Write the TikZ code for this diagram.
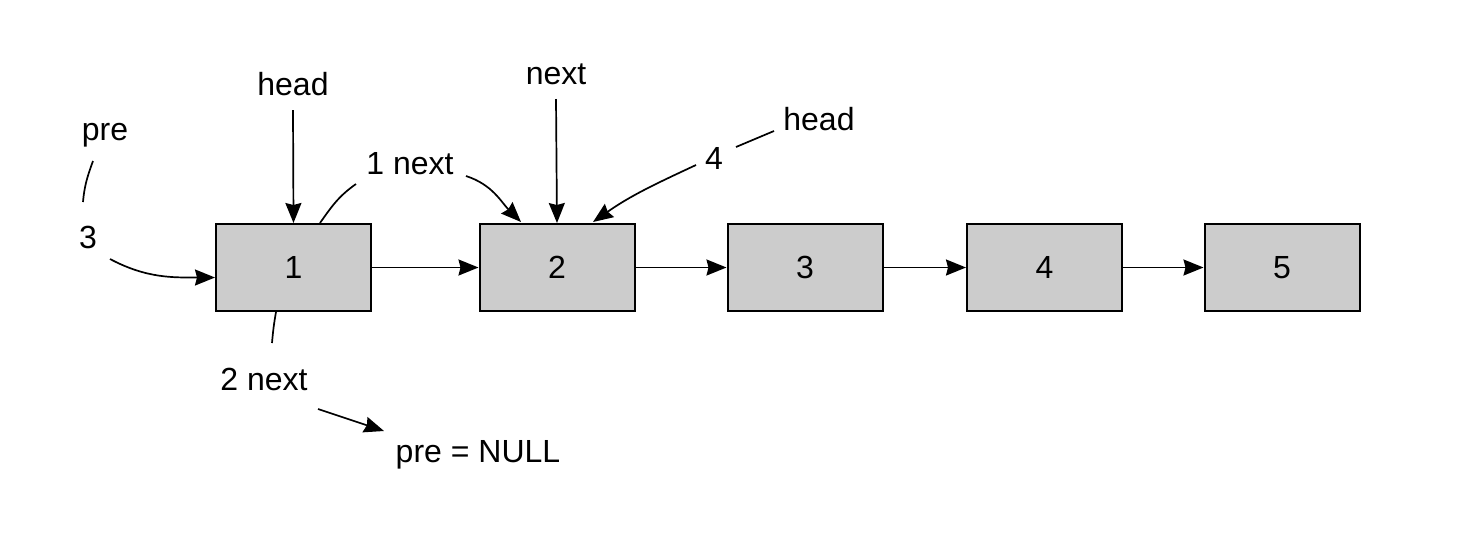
\documentclass[tikz,border=0pt]{standalone}
\usepackage{fontspec}
\setmainfont{Liberation Sans}
\usetikzlibrary{arrows.meta,calc}
\begin{document}
\begin{tikzpicture}[x=1pt,y=-1pt,
  every node/.style={font=\fontsize{32}{36}\selectfont, inner sep=0pt},
  listbox/.style={draw=black, line width=2pt, fill=black!20, minimum width=155pt, minimum height=87pt},
  lbl/.style={},
  link/.style={line width=1.7pt, -{Stealth[length=20pt,width=16pt,inset=2pt]}},
  plain/.style={line width=1.7pt}]
\useasboundingbox (0,0) rectangle (1478,542);
% boxes
\node[listbox] (b1) at (293.5,267.5) {1};
\node[listbox] (b2) at (557,267.5) {2};
\node[listbox] (b3) at (805,267.5) {3};
\node[listbox] (b4) at (1044.5,267.5) {4};
\node[listbox] (b5) at (1282,267.5) {5};
% labels
\node[lbl] (head1) at (293,84) {head};
\node[lbl] (next0) at (556,74) {next};
\node[lbl] (pre) at (105,135) {pre};
\node[lbl] (head2) at (819,119) {head};
\node[lbl] (l3) at (88,237) {3};
\node[lbl] (l1n) at (410,164) {1 next};
\node[lbl] (l4) at (714,158) {4};
\node[lbl] (l2n) at (264,379) {2 next};
\node[lbl] (null) at (478,455) {pre = NULL};
% anchor coordinates
\coordinate (p1) at (93,161);
\coordinate (p2) at (83,202);
\coordinate (p3) at (110,259);
\coordinate (p4) at ($(b1.west)+(0,10)$);
\coordinate (q1) at (320,223);
\coordinate (q2) at (356,184);
\coordinate (q3) at (466,176);
\coordinate (q4) at (521,222);
\coordinate (r1) at (774,131);
\coordinate (r2) at (736,147);
\coordinate (r3) at (696,165);
\coordinate (r4) at (593,222);
\coordinate (s1) at (276,312);
\coordinate (s2) at (272,343);
\coordinate (s3) at (318,409);
\coordinate (s4) at (384,431);
% chain links
\draw[link] (b1.east) -- (b2.west);
\draw[link] (b2.east) -- (b3.west);
\draw[link] (b3.east) -- (b4.west);
\draw[link] (b4.east) -- (b5.west);
% pointers
\draw[link] (293,110) -- (b1.north);
\draw[link] (556,99) -- (b2.north);
% pre -- 3 -> b1
\draw[plain] (p1) to[out=-110,in=85] (p2);
\draw[link] (p3) to[out=-28,in=180] (p4);
% 1 next
\draw[plain] (q1) to[out=55,in=-145] (q2);
\draw[link] (q3) to[out=-18,in=135] (q4);
% head -- 4 -> b2
\draw[plain] (r1) -- (r2);
\draw[link] (r3) to[out=-155,in=35] (r4);
% 2 next
\draw[plain] (s1) to[out=-100,in=85] (s2);
\draw[link] (s3) -- (s4);
\end{tikzpicture}
\end{document}
